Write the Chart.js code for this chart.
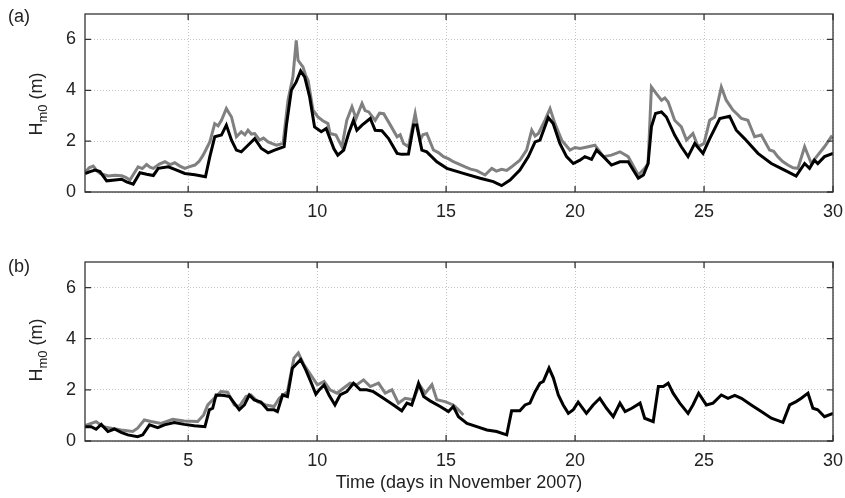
<!DOCTYPE html>
<html>
<head>
<meta charset="utf-8">
<script src="https://cdn.jsdelivr.net/npm/chart.js@4.4.1/dist/chart.umd.min.js"></script>
<style>
    body { margin: 0; background: #fff; }
    #wrap { position: relative; width: 845px; height: 498px; font-family: 'Liberation Sans', Arial, sans-serif; color: #222; }
    canvas { position: absolute; left: 0; }
    #chart-a { top: 0; }
    #chart-b { top: 250px; }
    .panel-label { position: absolute; font-size: 18px; }
    .y-label { position: absolute; font-size: 18px; white-space: nowrap; transform: translate(-50%, -50%) rotate(-90deg); }
    .y-label sub { font-size: 13px; }
</style>
</head>
<body>
<div id="wrap">
    <canvas id="chart-a" width="845" height="250"></canvas>
    <canvas id="chart-b" width="845" height="248"></canvas>
    <div class="panel-label" style="left: 8px; top: 6px;">(a)</div>
    <div class="panel-label" style="left: 8px; top: 256px;">(b)</div>
    <div class="y-label" style="left: 38px; top: 104px;">H<sub>m0</sub> (m)</div>
    <div class="y-label" style="left: 38px; top: 350px;">H<sub>m0</sub> (m)</div>
</div>
<script>
const xTicks = [5, 10, 15, 20, 25, 30];
const yTicks = [0, 2, 4, 6];

// panel (a)
const daysBlackA = [1.0, 1.2, 1.39, 1.58, 1.84, 2.16, 2.42, 2.61, 2.87, 3.13, 3.39, 3.65, 3.84, 4.23, 4.48, 4.87, 5.26, 5.67, 5.84, 6.03, 6.29, 6.48, 6.68, 6.87, 7.06, 7.32, 7.58, 7.84, 8.1, 8.35, 8.72, 8.81, 9.0, 9.19, 9.36, 9.52, 9.71, 9.9, 10.16, 10.35, 10.5, 10.65, 10.8, 11.03, 11.22, 11.41, 11.54, 11.74, 12.06, 12.25, 12.51, 12.77, 13.1, 13.28, 13.54, 13.74, 13.86, 14.06, 14.25, 14.64, 15.03, 15.67, 16.32, 16.83, 17.15, 17.48, 17.86, 18.19, 18.45, 18.64, 18.96, 19.15, 19.41, 19.67, 19.93, 20.19, 20.38, 20.64, 20.83, 21.1, 21.41, 21.74, 22.06, 22.45, 22.65, 22.83, 22.96, 23.12, 23.35, 23.54, 23.86, 24.12, 24.38, 24.64, 24.96, 25.22, 25.61, 25.99, 26.25, 26.57, 27.09, 27.61, 28.12, 28.57, 28.9, 29.09, 29.28, 29.41, 29.67, 30.0];
const hmBlackA = [0.72, 0.8, 0.86, 0.8, 0.44, 0.47, 0.5, 0.4, 0.31, 0.76, 0.7, 0.65, 0.93, 0.99, 0.89, 0.73, 0.68, 0.6, 1.39, 2.17, 2.24, 2.63, 2.04, 1.65, 1.58, 1.84, 2.1, 1.71, 1.54, 1.65, 1.78, 2.63, 4.0, 4.33, 4.76, 4.52, 3.74, 2.56, 2.37, 2.5, 2.1, 1.7, 1.45, 1.65, 2.3, 2.82, 2.43, 2.63, 2.89, 2.43, 2.41, 2.1, 1.52, 1.48, 1.49, 2.63, 2.63, 1.65, 1.58, 1.19, 0.93, 0.73, 0.54, 0.41, 0.25, 0.47, 0.86, 1.39, 1.97, 2.04, 2.93, 2.69, 1.91, 1.39, 1.12, 1.25, 1.39, 1.28, 1.65, 1.39, 1.06, 1.19, 1.19, 0.54, 0.67, 1.12, 2.56, 3.09, 3.15, 2.95, 2.24, 1.78, 1.39, 1.91, 1.52, 2.1, 2.89, 2.98, 2.43, 2.1, 1.52, 1.12, 0.86, 0.63, 1.12, 0.93, 1.25, 1.12, 1.39, 1.52];
const daysGrayA = [1.0, 1.16, 1.32, 1.45, 1.58, 1.9, 2.15, 2.42, 2.58, 2.74, 3.06, 3.22, 3.39, 3.52, 3.65, 3.88, 4.1, 4.3, 4.48, 4.68, 4.87, 5.06, 5.26, 5.42, 5.58, 5.84, 6.03, 6.16, 6.29, 6.48, 6.68, 6.87, 7.06, 7.2, 7.32, 7.45, 7.58, 7.77, 7.92, 8.1, 8.26, 8.42, 8.68, 8.87, 9.06, 9.19, 9.26, 9.45, 9.55, 9.65, 9.84, 10.03, 10.22, 10.42, 10.5, 10.73, 10.96, 11.15, 11.35, 11.51, 11.74, 11.86, 12.0, 12.25, 12.42, 12.58, 12.84, 13.1, 13.22, 13.35, 13.54, 13.8, 13.99, 14.1, 14.25, 14.51, 14.7, 14.9, 15.1, 15.28, 15.5, 15.74, 15.95, 16.19, 16.51, 16.77, 16.95, 17.15, 17.35, 17.54, 17.86, 18.12, 18.32, 18.45, 18.58, 18.83, 19.03, 19.22, 19.48, 19.8, 20.0, 20.19, 20.51, 20.77, 21.1, 21.41, 21.74, 22.06, 22.45, 22.7, 22.83, 22.96, 23.15, 23.35, 23.48, 23.61, 23.86, 24.12, 24.32, 24.57, 24.77, 25.0, 25.22, 25.41, 25.67, 25.86, 26.12, 26.3, 26.45, 26.7, 26.96, 27.22, 27.38, 27.54, 27.7, 27.86, 28.05, 28.25, 28.45, 28.64, 28.9, 29.16, 29.41, 29.67, 29.93, 30.0];
const hmGrayA = [0.76, 0.95, 1.02, 0.85, 0.73, 0.63, 0.66, 0.64, 0.58, 0.47, 0.99, 0.92, 1.08, 0.98, 0.93, 1.1, 1.19, 1.08, 1.15, 1.02, 0.93, 1.0, 1.06, 1.2, 1.45, 1.97, 2.69, 2.6, 2.82, 3.28, 2.95, 2.17, 2.37, 2.25, 2.43, 2.28, 2.3, 2.04, 2.12, 1.97, 1.9, 1.84, 1.91, 3.61, 4.52, 5.96, 5.18, 4.92, 4.6, 4.39, 3.22, 2.95, 2.8, 2.69, 2.3, 2.24, 1.78, 2.82, 3.35, 2.89, 3.48, 3.2, 3.15, 2.82, 3.1, 3.08, 2.63, 2.17, 2.25, 1.91, 1.78, 3.08, 2.04, 2.25, 2.3, 1.65, 1.55, 1.39, 1.3, 1.19, 1.1, 0.99, 0.9, 0.84, 0.67, 0.93, 0.82, 0.89, 0.85, 0.99, 1.25, 1.65, 2.43, 2.2, 2.3, 2.82, 3.28, 2.69, 2.04, 1.65, 1.75, 1.71, 1.78, 1.84, 1.39, 1.45, 1.58, 1.39, 0.67, 0.93, 1.12, 4.13, 3.87, 3.61, 3.7, 3.54, 2.82, 2.56, 2.04, 2.3, 1.78, 1.91, 2.82, 2.95, 4.13, 3.61, 3.22, 3.05, 2.89, 2.82, 2.17, 2.24, 1.95, 1.65, 1.6, 1.39, 1.2, 1.06, 0.95, 0.93, 1.78, 1.12, 1.45, 1.78, 2.17, 2.1];

// panel (b)
const daysBlackB = [1.0, 1.24, 1.43, 1.63, 1.89, 2.14, 2.4, 2.66, 3.04, 3.24, 3.5, 3.82, 4.08, 4.46, 4.85, 5.24, 5.65, 5.82, 5.95, 6.08, 6.4, 6.6, 6.79, 6.98, 7.18, 7.37, 7.56, 7.82, 8.08, 8.33, 8.46, 8.66, 8.85, 9.04, 9.17, 9.36, 9.56, 9.75, 9.95, 10.08, 10.27, 10.46, 10.69, 10.89, 11.15, 11.41, 11.67, 11.92, 12.18, 12.57, 12.96, 13.28, 13.48, 13.67, 13.93, 14.13, 14.38, 14.77, 15.09, 15.28, 15.48, 15.81, 16.19, 16.58, 16.96, 17.35, 17.54, 17.86, 18.06, 18.25, 18.45, 18.64, 18.77, 18.99, 19.16, 19.35, 19.54, 19.74, 19.93, 20.12, 20.44, 20.7, 20.96, 21.22, 21.48, 21.74, 21.94, 22.2, 22.52, 22.7, 23.03, 23.23, 23.42, 23.61, 23.8, 24.06, 24.38, 24.57, 24.79, 25.09, 25.35, 25.67, 25.93, 26.19, 26.45, 26.83, 27.22, 27.61, 28.06, 28.32, 28.57, 28.77, 29.03, 29.22, 29.41, 29.67, 30.0];
const hmBlackB = [0.56, 0.56, 0.46, 0.65, 0.37, 0.47, 0.34, 0.24, 0.17, 0.24, 0.63, 0.52, 0.63, 0.72, 0.65, 0.6, 0.56, 1.22, 1.28, 1.8, 1.78, 1.74, 1.48, 1.22, 1.41, 1.8, 1.61, 1.52, 1.22, 1.22, 1.15, 1.8, 1.74, 2.85, 2.98, 3.18, 2.78, 2.33, 1.83, 2.0, 2.2, 1.8, 1.41, 1.8, 1.93, 2.26, 2.0, 2.0, 1.93, 1.67, 1.41, 1.18, 1.48, 1.41, 2.26, 1.74, 1.57, 1.35, 1.15, 1.35, 0.95, 0.69, 0.56, 0.43, 0.37, 0.24, 1.18, 1.18, 1.41, 1.48, 1.93, 2.26, 2.33, 2.85, 2.46, 1.8, 1.41, 1.08, 1.22, 1.52, 1.08, 1.41, 1.67, 1.28, 0.95, 1.48, 1.15, 1.28, 1.48, 0.89, 0.76, 2.13, 2.13, 2.26, 1.87, 1.48, 1.08, 1.41, 1.87, 1.41, 1.48, 1.8, 1.67, 1.78, 1.67, 1.41, 1.15, 0.89, 0.73, 1.41, 1.54, 1.67, 1.87, 1.28, 1.22, 0.95, 1.08];
const daysGrayB = [1.0, 1.43, 1.7, 2.01, 2.4, 2.85, 3.04, 3.3, 3.56, 3.95, 4.4, 4.85, 5.37, 5.6, 5.76, 6.01, 6.27, 6.53, 6.79, 6.98, 7.24, 7.43, 7.69, 8.01, 8.33, 8.53, 8.85, 9.1, 9.27, 9.49, 9.75, 10.01, 10.27, 10.5, 10.77, 11.03, 11.28, 11.54, 11.8, 12.06, 12.38, 12.64, 12.9, 13.15, 13.41, 13.74, 13.96, 14.19, 14.45, 14.64, 14.96, 15.28, 15.48, 15.67];
const hmGrayB = [0.6, 0.76, 0.56, 0.5, 0.43, 0.37, 0.5, 0.82, 0.76, 0.69, 0.85, 0.78, 0.76, 1.02, 1.41, 1.67, 1.93, 1.91, 1.41, 1.35, 1.74, 1.8, 1.54, 1.41, 1.35, 1.67, 1.93, 3.24, 3.44, 2.98, 2.59, 2.2, 2.33, 2.0, 1.87, 2.07, 2.26, 2.2, 2.39, 2.13, 2.26, 1.87, 2.0, 1.48, 1.67, 1.61, 2.2, 1.87, 2.2, 1.61, 1.54, 1.41, 1.22, 1.02];

const FONT = "'Liberation Sans', Arial, sans-serif";

function toPoints(days, values) {
    return days.map((d, i) => ({ x: d, y: values[i] }));
}

// MATLAB style box with inward tick marks on all four sides
const boxPlugin = {
    id: 'box',
    afterDraw(chart) {
        const { ctx, chartArea: a, scales } = chart;
        ctx.save();
        ctx.strokeStyle = '#333';
        ctx.lineWidth = 1.3;
        ctx.beginPath();
        xTicks.forEach(v => {
            const px = scales.x.getPixelForValue(v);
            ctx.moveTo(px, a.bottom); ctx.lineTo(px, a.bottom - 6);
            ctx.moveTo(px, a.top); ctx.lineTo(px, a.top + 6);
        });
        yTicks.forEach(v => {
            const py = scales.y.getPixelForValue(v);
            ctx.moveTo(a.left, py); ctx.lineTo(a.left + 6, py);
            ctx.moveTo(a.right, py); ctx.lineTo(a.right - 6, py);
        });
        ctx.stroke();
        ctx.strokeRect(a.left, a.top, a.right - a.left, a.bottom - a.top);
        ctx.restore();
    }
};

function buildChart(target, blackDays, blackValues, grayDays, grayValues, layout) {
    const ctx = document.getElementById(target);
    new Chart(ctx, {
        type: 'line',
        data: {
            datasets: [
                {
                    label: 'black',
                    data: toPoints(blackDays, blackValues),
                    borderColor: '#000',
                    borderWidth: 3,
                    pointRadius: 0,
                    tension: 0,
                    order: 1
                },
                {
                    label: 'gray',
                    data: toPoints(grayDays, grayValues),
                    borderColor: '#808080',
                    borderWidth: 3,
                    pointRadius: 0,
                    tension: 0,
                    order: 2
                }
            ]
        },
        options: {
            responsive: false,
            animation: false,
            layout: { padding: { top: layout.top, right: 12, left: 0, bottom: 0 } },
            scales: {
                x: {
                    type: 'linear',
                    min: 1,
                    max: 30,
                    afterBuildTicks: s => { s.ticks = xTicks.map(v => ({ value: v })); },
                    afterFit: s => { s.height = layout.xHeight; s.paddingLeft = 0; s.paddingRight = 0; },
                    grid: { color: '#c4c4c4', lineWidth: 1, drawTicks: false },
                    border: { display: false, dash: [1, 2] },
                    ticks: { font: { family: FONT, size: 18 }, color: '#222', padding: 9, maxRotation: 0, autoSkip: false },
                    title: {
                        display: layout.showTitle,
                        text: 'Time (days in November 2007)',
                        font: { family: FONT, size: 18 },
                        color: '#222',
                        padding: { top: 2, bottom: 4 }
                    }
                },
                y: {
                    min: 0,
                    max: 7,
                    afterBuildTicks: s => { s.ticks = yTicks.map(v => ({ value: v })); },
                    afterFit: s => { s.width = 85; s.paddingTop = 0; s.paddingBottom = 0; },
                    grid: { color: '#c4c4c4', lineWidth: 1, drawTicks: false },
                    border: { display: false, dash: [1, 2] },
                    ticks: { font: { family: FONT, size: 18 }, color: '#222', padding: 9 }
                }
            },
            plugins: {
                legend: { display: false },
                tooltip: { enabled: false }
            }
        },
        plugins: [boxPlugin]
    });
}

buildChart('chart-a', daysBlackA, hmBlackA, daysGrayA, hmGrayA, { top: 14, xHeight: 58, showTitle: false });
buildChart('chart-b', daysBlackB, hmBlackB, daysGrayB, hmGrayB, { top: 12, xHeight: 57, showTitle: true });
</script>
</body>
</html>
